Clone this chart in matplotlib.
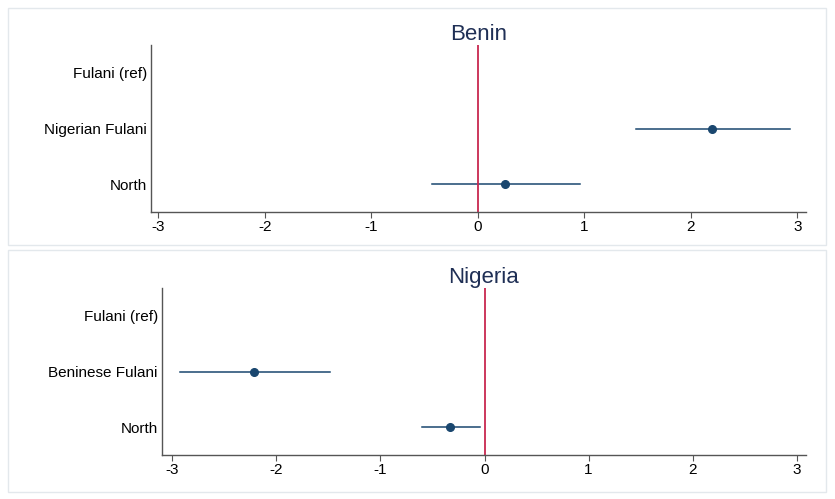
import matplotlib
matplotlib.use("Agg")
import matplotlib.pyplot as plt
from matplotlib.patches import Rectangle

plt.rcParams['font.family'] = ['Liberation Sans', 'DejaVu Sans']

# data
benin_labels = ["Fulani (ref)", "Nigerian Fulani", "North"]
benin_est = [None, 2.20, 0.25]
benin_lo = [None, 1.48, -0.43]
benin_hi = [None, 2.93, 0.96]

nigeria_labels = ["Fulani (ref)", "Beninese Fulani", "North"]
nigeria_est = [None, -2.22, -0.33]
nigeria_lo = [None, -2.93, -0.60]
nigeria_hi = [None, -1.49, -0.04]

xticks = [-3, -2, -1, 0, 1, 2, 3]

navy = "#1a476f"
red = "#c8284f"

fig = plt.figure(figsize=(8.35, 4.99), dpi=100)

# light panel frames
for y0, h in [(1 - 245/499, 237/499), (1 - 492/499, 242/499)]:
    fig.patches.append(Rectangle((8/835, y0), 818/835, h, transform=fig.transFigure,
                                 fill=False, edgecolor="#e3e8ec", lw=1))

def panel(rect, title, labels, est, lo, hi, xlim):
    ax = fig.add_axes(rect)
    ypos = [1, 2, 3]
    for y, e, l, h in zip(ypos, est, lo, hi):
        if e is None:
            continue
        ax.plot([l, h], [y, y], color=navy, lw=1.1)
        ax.plot(e, y, 'o', color=navy, ms=5.5)
    ax.axvline(0, color=red, lw=1.3)
    ax.set_xlim(*xlim)
    ax.set_ylim(3.5, 0.5)
    ax.set_yticks(ypos)
    ax.set_yticklabels(labels, fontsize=11)
    ax.set_xticks(xticks)
    ax.set_xticklabels([str(t) for t in xticks], fontsize=11)
    ax.tick_params(axis='y', length=0, pad=3)
    ax.tick_params(axis='x', length=4, color="#555555", pad=2)
    for s in ['top', 'right']:
        ax.spines[s].set_visible(False)
    for s in ['left', 'bottom']:
        ax.spines[s].set_color("#555555")
        ax.spines[s].set_linewidth(1.0)
    ax.set_title(title, fontsize=16, color="#1f2f55", pad=2)
    return ax

panel([151/835, 1 - 212/499, (806 - 151)/835, 167/499], "Benin",
      benin_labels, benin_est, benin_lo, benin_hi, (-3.07, 3.08))
panel([162/835, 1 - 455/499, (806 - 162)/835, 167/499], "Nigeria",
      nigeria_labels, nigeria_est, nigeria_lo, nigeria_hi, (-3.1, 3.09))

fig.savefig("out.png", dpi=100)
